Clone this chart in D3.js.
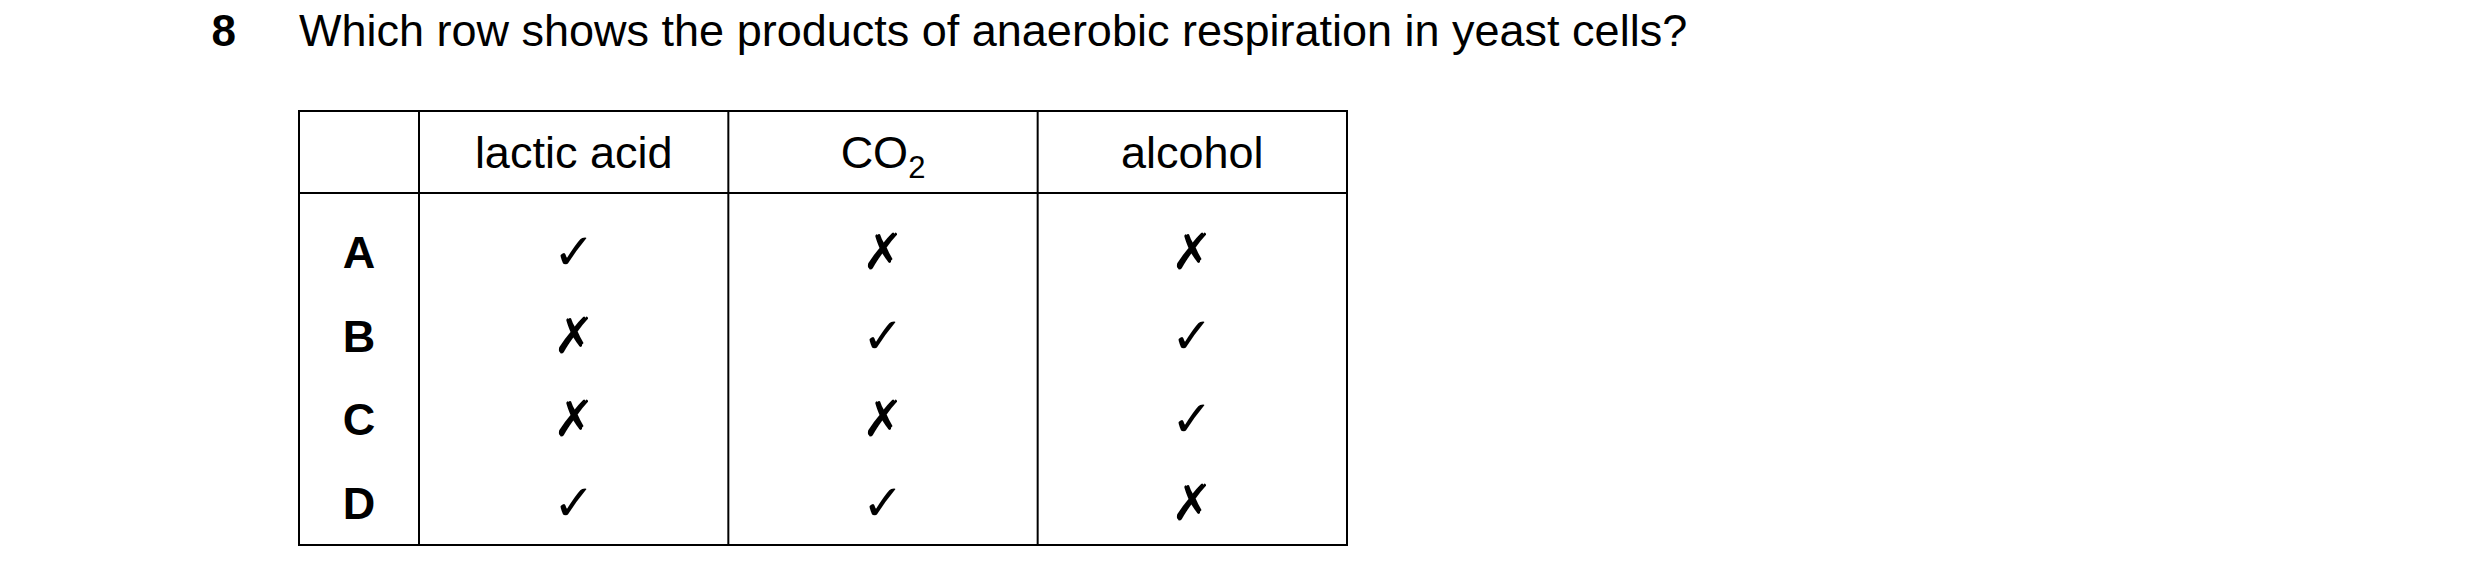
<!DOCTYPE html>
<html>
<head>
<meta charset="utf-8">
<script src="https://cdn.jsdelivr.net/npm/d3@7"></script>
<style>
  body { margin: 0; background: #fff; }
  text { font-family: 'Liberation Sans', Arial, sans-serif; fill: #000; }
</style>
</head>
<body>
<svg id="chart" width="2480" height="585"></svg>
<script>
// question content
var questionNumber = '8'
var questionText = 'Which row shows the products of anaerobic respiration in yeast cells?'
var rowLabels = ['A', 'B', 'C', 'D']
var columnLabels = ['lactic acid', 'CO2', 'alcohol']
// true = tick, false = cross
var lacticAcid = [true, false, false, true]
var carbonDioxide = [false, true, false, true]
var alcohol = [false, true, true, false]

var columnValues = [lacticAcid, carbonDioxide, alcohol]

var svg = d3.select('#chart')

// layout
var tbl = { left: 299, right: 1347, top: 111, head: 193, bottom: 545, labelCol: 419 }

svg.append('text')
  .attr('x', 236).attr('y', 46)
  .attr('text-anchor', 'end')
  .attr('font-size', 44).attr('font-weight', 'bold')
  .text(questionNumber)
svg.append('text')
  .attr('x', 299).attr('y', 46)
  .attr('font-size', 45)
  .text(questionText)

// scales
var xScale = d3.scaleBand().domain(d3.range(columnLabels.length)).range([tbl.labelCol, tbl.right])
var yScale = d3.scaleBand().domain(rowLabels).range([tbl.head + 17, tbl.bottom])

// grid lines
var g = svg.append('g').attr('stroke', '#000').attr('stroke-width', 2)
g.append('rect')
  .attr('x', tbl.left).attr('y', tbl.top)
  .attr('width', tbl.right - tbl.left).attr('height', tbl.bottom - tbl.top)
  .attr('fill', 'none')
g.append('line')
  .attr('x1', tbl.left).attr('x2', tbl.right)
  .attr('y1', tbl.head).attr('y2', tbl.head)
g.selectAll('.vline')
  .data(d3.range(columnLabels.length))
  .enter().append('line')
  .attr('class', 'vline')
  .attr('x1', function (d) { return xScale(d) })
  .attr('x2', function (d) { return xScale(d) })
  .attr('y1', tbl.top).attr('y2', tbl.bottom)

// column headers
var headY = (tbl.top + tbl.head) / 2 + 16
svg.selectAll('.colHead')
  .data(columnLabels)
  .enter().append('text')
  .attr('class', 'colHead')
  .attr('x', function (d, i) { return xScale(i) + xScale.bandwidth() / 2 })
  .attr('y', headY)
  .attr('text-anchor', 'middle')
  .attr('font-size', 45)
  .each(function (d) {
    var t = d3.select(this)
    if (d === 'CO2') {
      t.append('tspan').text('CO')
      t.append('tspan').attr('font-size', 31).attr('dy', 10).text('2')
    } else {
      t.text(d)
    }
  })

// row labels
svg.selectAll('.rowHead')
  .data(rowLabels)
  .enter().append('text')
  .attr('class', 'rowHead')
  .attr('x', (tbl.left + tbl.labelCol) / 2)
  .attr('y', function (d) { return yScale(d) + yScale.bandwidth() / 2 + 16 })
  .attr('text-anchor', 'middle')
  .attr('font-size', 45).attr('font-weight', 'bold')
  .text(function (d) { return d })

// ticks and crosses
columnValues.forEach(function (vals, ci) {
  svg.selectAll('.mark' + ci)
    .data(vals)
    .enter().append('text')
    .attr('class', 'mark' + ci)
    .attr('x', xScale(ci) + xScale.bandwidth() / 2)
    .attr('y', function (d, i) { return yScale(rowLabels[i]) + yScale.bandwidth() / 2 + 17 })
    .attr('text-anchor', 'middle')
    .attr('font-family', 'DejaVu Sans')
    .attr('font-size', 50)
    .text(function (d) { return d ? '\u2713' : '\u2717' })
})
</script>
</body>
</html>
